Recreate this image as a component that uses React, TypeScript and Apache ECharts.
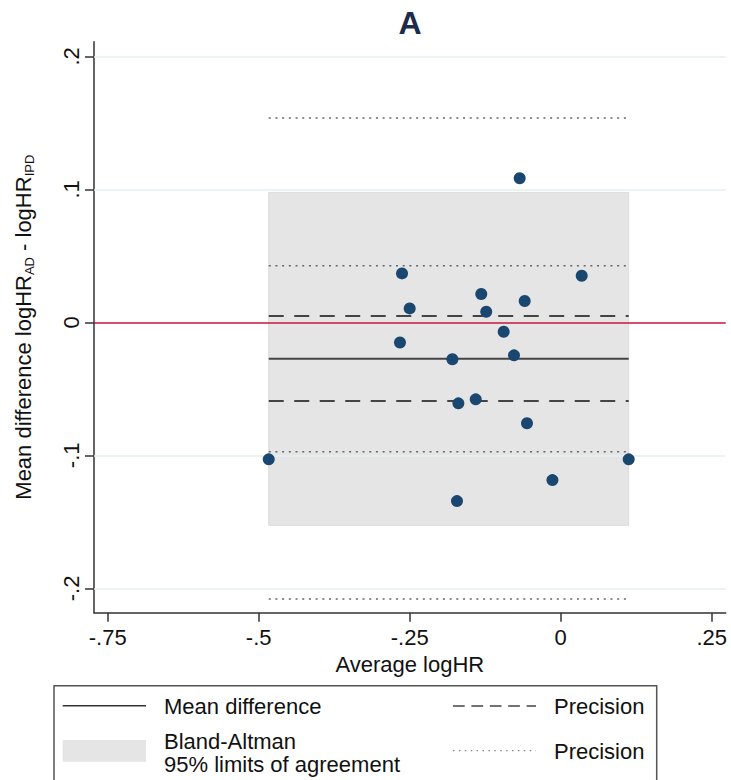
import React, { useEffect, useRef } from "react";
import * as echarts from "echarts";

// ---- data ----
const avgLogHR = [
  -0.4834, -0.2627, -0.25, -0.2661, -0.1793, -0.1694, -0.1717, -0.1407, -0.1315,
  -0.1233, -0.0944, -0.0773, -0.0679, -0.0596, -0.0558, -0.0137, 0.0348, 0.1126,
];
const diffLogHR = [
  -0.103, 0.0368, 0.0105, -0.0152, -0.0278, -0.0609, -0.1344, -0.0579, 0.0213,
  0.008, -0.0071, -0.0248, 0.1083, 0.016, -0.0759, -0.1186, 0.035, -0.103,
];
const meanDifference = -0.0274;
const meanPrecision = [0.0047, -0.0592];
const limitsOfAgreement = [-0.1526, 0.0977];
const limitsPrecision = [0.1536, 0.0426, -0.0973, -0.208];
const xTickValues = [-0.75, -0.5, -0.25, 0, 0.25];
const yTickValues = [-0.2, -0.1, 0, 0.1, 0.2];
const yGridValues = [-0.2, -0.1, 0.1, 0.2];

const FONT = "'Liberation Sans', Arial, Helvetica, sans-serif";

const fmt = (v: number) => {
  const s = String(Math.round(v * 1000) / 1000);
  return s.replace(/^(-?)0\./, "$1.");
};

export default function App() {
  const ref = useRef<HTMLDivElement>(null);

  useEffect(() => {
    if (!ref.current) return;
    const chart = echarts.init(ref.current, null, { renderer: "svg" });
    const xMin = Math.min(...avgLogHR);
    const xMax = Math.max(...avgLogHR);
    const seg = (y: number) => [
      [xMin, y],
      [xMax, y],
    ];
    const lineSeries = (y: number, type: any, color: string, width: number, z: number) => ({
      type: "line",
      data: seg(y),
      symbol: "none",
      silent: true,
      z,
      lineStyle: { color, width, type },
    });
    const legendText = (text: string, x: number, y: number) => ({
      type: "text",
      x,
      y,
      style: {
        text,
        font: `22px ${FONT}`,
        fill: "#111",
        textVerticalAlign: "middle",
      },
    });

    const option: any = {
      animation: false,
      grid: {
        left: 94,
        right: 5.3,
        top: 41.7,
        bottom: 167.3,
        outerBoundsMode: "none",
      },
      xAxis: {
        type: "value",
        min: -0.7727,
        max: 0.2732,
        name: "Average logHR",
        nameLocation: "middle",
        nameGap: 37,
        nameTextStyle: { fontFamily: FONT, fontSize: 22, color: "#111" },
        axisLine: { show: true, onZero: false, lineStyle: { color: "#333", width: 1.5 } },
        axisTick: {
          show: true,
          customValues: xTickValues,
          length: 9,
          lineStyle: { color: "#333", width: 1.5 },
        },
        axisLabel: {
          customValues: xTickValues,
          formatter: fmt,
          margin: 14,
          fontFamily: FONT,
          fontSize: 22,
          color: "#111",
        },
        splitLine: { show: false },
      },
      yAxis: {
        type: "value",
        min: -0.2183,
        max: 0.211,
        name: "{n|Mean difference logHR}{s|AD}{n| - logHR}{s|IPD}",
        nameLocation: "middle",
        nameRotate: 90,
        nameGap: 58,
        nameTextStyle: {
          fontFamily: FONT,
          fontSize: 22,
          color: "#111",
          rich: {
            n: { fontFamily: FONT, fontSize: 22, color: "#111", lineHeight: 26, verticalAlign: "middle" },
            s: { fontFamily: FONT, fontSize: 13, color: "#111", lineHeight: 12, verticalAlign: "bottom" },
          },
        },
        axisLine: { show: true, onZero: false, lineStyle: { color: "#333", width: 1.5 } },
        axisTick: {
          show: true,
          customValues: yTickValues,
          length: 9,
          lineStyle: { color: "#333", width: 1.5 },
        },
        axisLabel: {
          customValues: yTickValues,
          formatter: fmt,
          rotate: 90,
          margin: 12,
          fontFamily: FONT,
          fontSize: 22,
          color: "#111",
        },
        splitLine: { show: false },
      },
      series: [
        {
          type: "line",
          data: [],
          z: 1,
          silent: true,
          markLine: {
            silent: true,
            symbol: "none",
            label: { show: false },
            lineStyle: { color: "#e6eff1", width: 1.5, type: "solid" },
            data: yGridValues.map((v) => ({ yAxis: v })),
          },
        },
        {
          type: "line",
          data: [],
          z: 1,
          silent: true,
          markLine: {
            silent: true,
            symbol: "none",
            label: { show: false },
            lineStyle: { color: "#c8143c", width: 1.5, type: "solid" },
            data: [{ yAxis: 0 }],
          },
        },
        {
          type: "line",
          data: [],
          z: 2,
          silent: true,
          markArea: {
            silent: true,
            itemStyle: { color: "#e5e5e5", opacity: 1, borderColor: "#dcdcdc", borderWidth: 1 },
            data: [
              [
                { xAxis: xMin, yAxis: limitsOfAgreement[0] },
                { xAxis: xMax, yAxis: limitsOfAgreement[1] },
              ],
            ],
          },
        },
        ...limitsPrecision.map((v) => lineSeries(v, [2, 4.7], "#666", 1.5, 3)),
        ...meanPrecision.map((v) => lineSeries(v, [15, 10.5], "#444", 2, 3)),
        lineSeries(meanDifference, "solid", "#444", 2, 3),
        {
          type: "scatter",
          z: 5,
          symbol: "circle",
          symbolSize: 12,
          itemStyle: { color: "#1a476f", opacity: 1 },
          data: avgLogHR.map((x, i) => [x, diffLogHR[i]]),
        },
      ],
      graphic: [
        {
          type: "text",
          x: 410,
          y: 23,
          style: {
            text: "A",
            font: `bold 32px ${FONT}`,
            fill: "#1c2b4a",
            textAlign: "center",
            textVerticalAlign: "middle",
          },
        },
        {
          type: "rect",
          shape: { x: 54, y: 685.7, width: 602.7, height: 120 },
          style: { fill: "#fff", stroke: "#555", lineWidth: 1.5 },
        },
        {
          type: "line",
          shape: { x1: 62.7, y1: 705.7, x2: 146, y2: 705.7 },
          style: { stroke: "#333", lineWidth: 1.5 },
        },
        legendText("Mean difference", 164, 706.5),
        {
          type: "line",
          shape: { x1: 453, y1: 706, x2: 536, y2: 706 },
          style: { stroke: "#444", lineWidth: 1.5, lineDash: [11.7, 6.7] },
        },
        legendText("Precision", 554, 706.5),
        {
          type: "rect",
          shape: { x: 62.7, y: 740, width: 83.3, height: 21.7 },
          style: { fill: "#e5e5e5" },
        },
        legendText("Bland-Altman", 164, 741),
        legendText("95% limits of agreement", 164, 764),
        {
          type: "line",
          shape: { x1: 453, y1: 750.7, x2: 536, y2: 750.7 },
          style: { stroke: "#888", lineWidth: 1.3, lineDash: [1.5, 4.4] },
        },
        legendText("Precision", 554, 751),
      ],
    };
    chart.setOption(option);
    return () => chart.dispose();
  }, []);

  return (
    <div
      ref={ref}
      style={{ position: "fixed", left: 0, top: 0, width: 731, height: 780, background: "#fff" }}
    />
  );
}
